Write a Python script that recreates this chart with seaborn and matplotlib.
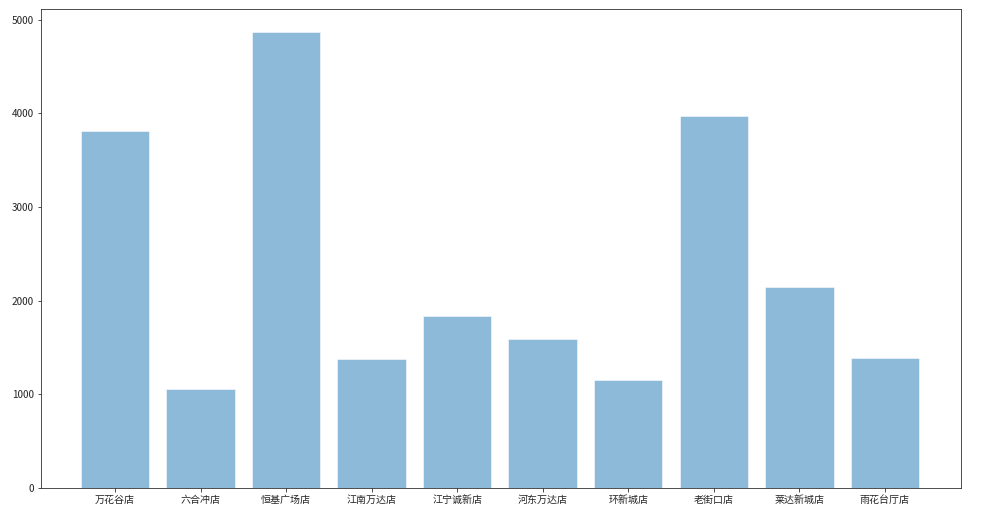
import matplotlib
matplotlib.use('Agg')
import matplotlib.pyplot as plt
import seaborn as sns
import pandas as pd

# store names and sales values
stores = ['万花谷店', '六合冲店', '恒基广场店', '江南万达店', '江宁诚新店',
          '河东万达店', '环新城店', '老街口店', '莱达新城店', '雨花台厅店']
sales = [3810, 1062, 4870, 1378, 1838, 1589, 1158, 3970, 2141, 1393]

sns.set_style('ticks')
plt.rcParams['font.family'] = ['Noto Sans CJK SC', 'DejaVu Sans']
plt.rcParams['axes.unicode_minus'] = False

df = pd.DataFrame({'store': stores, 'sales': sales})

fig = plt.figure(figsize=(982 / 72, 523 / 72), dpi=72)
ax = fig.add_axes([41 / 982, 1 - 488 / 523, (961 - 41) / 982, (488 - 9) / 523])
sns.barplot(data=df, x='store', y='sales', color='#1f77b4', alpha=0.5,
            saturation=1, width=0.8, ax=ax)
ax.set_xlim(-0.865, 9.89)
ax.set_ylim(0, 5114)
ax.set_xlabel('')
ax.set_ylabel('')
ax.tick_params(labelsize=10)
for s in ax.spines.values():
    s.set_visible(True)

fig.savefig('out.png', dpi=72)
